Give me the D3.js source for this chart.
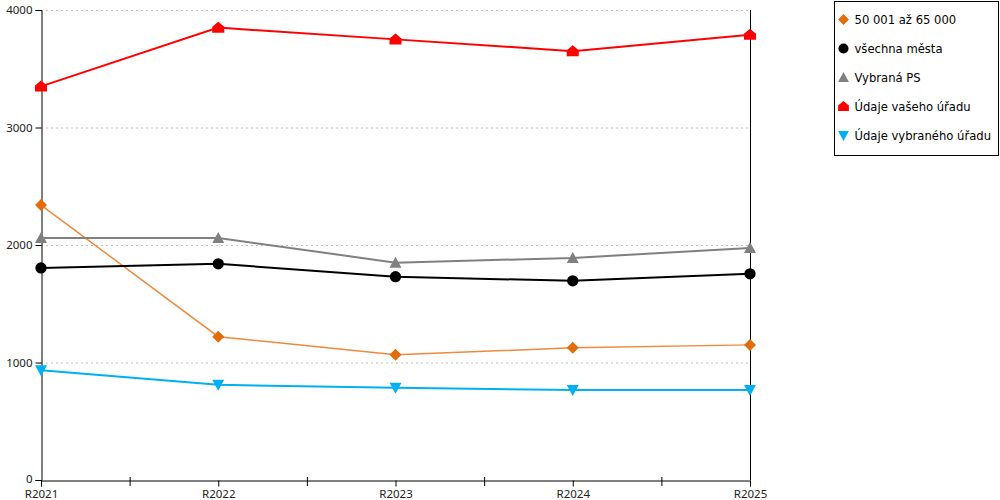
<!DOCTYPE html>
<html>
<head>
<meta charset="utf-8">
<script src="https://cdn.jsdelivr.net/npm/d3@7"></script>
<style>
  body { margin: 0; background: #fff; }
  svg { font-family: "DejaVu Sans", sans-serif; font-size: 12px; }
</style>
</head>
<body>
<svg width="1000" height="500"></svg>
<script>
// data
const years = ["R2021", "R2022", "R2023", "R2024", "R2025"];
const yTicks = [0, 1000, 2000, 3000, 4000];

const s5065 = [2340, 1220, 1065, 1125, 1150];
const vsechnaMesta = [1805, 1840, 1730, 1695, 1755];
const vybranaPS = [2060, 2060, 1850, 1890, 1975];
const vasUrad = [3350, 3850, 3750, 3650, 3790];
const vybranyUrad = [935, 810, 785, 765, 765];

const series = [
  { name: "50 001 až 65 000", values: s5065, color: "#e36c0a", line: "#ef8a3c", width: 1.5, shape: "diamond" },
  { name: "všechna města", values: vsechnaMesta, color: "#000000", line: "#000000", width: 2, shape: "circle" },
  { name: "Vybraná PS", values: vybranaPS, color: "#808080", line: "#808080", width: 2, shape: "triUp" },
  { name: "Údaje vašeho úřadu", values: vasUrad, color: "#ff0000", line: "#ff0000", width: 2, shape: "house" },
  { name: "Údaje vybraného úřadu", values: vybranyUrad, color: "#00b0f0", line: "#00b0f0", width: 2, shape: "triDown" },
];

const svg = d3.select("svg");
const mLeft = 41, mRight = 750, mTop = 10, mBottom = 480;

const x = d3.scalePoint().domain(years).range([mLeft, mRight]);
const y = d3.scaleLinear().domain([0, 4000]).range([mBottom, mTop]);

// marker shapes
function marker(shape) {
  switch (shape) {
    case "diamond": return "M0,-6L6,0L0,6L-6,0Z";
    case "circle": return d3.symbol(d3.symbolCircle, 100)();
    case "triUp": return "M0,-6L6,5L-6,5Z";
    case "triDown": return "M-6,-5L6,-5L0,6Z";
    case "house": return "M0,-6L6,-1L6,5L-6,5L-6,-1Z";
  }
}

// grid
svg.append("g")
  .selectAll("line")
  .data(yTicks.filter((d) => d > 0))
  .enter()
  .append("line")
  .attr("x1", mLeft)
  .attr("x2", mRight - 2)
  .attr("y1", (d) => y(d) + 0.5)
  .attr("y2", (d) => y(d) + 0.5)
  .attr("stroke", "#c0c0c0")
  .attr("stroke-dasharray", "2,3");

// y axis
const yAxis = svg.append("g")
  .attr("transform", `translate(${mLeft + 0.5},0)`)
  .call(d3.axisLeft(y).tickValues(yTicks).tickFormat(d3.format("d")).tickSize(6).tickPadding(3));
yAxis.select(".domain").attr("stroke", "#000");
yAxis.selectAll("text").attr("font-family", "Noto Sans").attr("font-size", 11.5).attr("fill", "#222")
  .attr("dy", (d) => (d === 0 ? "0.2em" : "0.32em"));

// x axis
const xAxis = svg.append("g")
  .attr("transform", `translate(0,${mBottom + 0.5})`)
  .call(d3.axisBottom(x).tickSizeOuter(0).tickSize(6).tickPadding(3));
xAxis.select(".domain").attr("stroke", "#000");
xAxis.selectAll("text").attr("font-family", "Noto Sans").attr("font-size", 11.5).attr("fill", "#222");

// minor ticks between categories
const step = x.step();
svg.append("g")
  .selectAll("line")
  .data(years.slice(0, -1))
  .enter()
  .append("line")
  .attr("x1", (d) => x(d) + step / 2 + 0.5)
  .attr("x2", (d) => x(d) + step / 2 + 0.5)
  .attr("y1", mBottom - 3)
  .attr("y2", mBottom + 6)
  .attr("stroke", "#000");

// right axis line
svg.append("line")
  .attr("x1", mRight + 0.5)
  .attr("x2", mRight + 0.5)
  .attr("y1", mTop)
  .attr("y2", mBottom)
  .attr("stroke", "#000");

// lines
const line = d3.line().x((d, i) => x(years[i])).y((d) => y(d));
svg.append("g")
  .selectAll("path")
  .data(series)
  .enter()
  .append("path")
  .attr("d", (d) => line(d.values))
  .attr("fill", "none")
  .attr("stroke", (d) => d.line)
  .attr("stroke-width", (d) => d.width);

// markers
series.forEach((s) => {
  svg.append("g")
    .selectAll("path")
    .data(s.values)
    .enter()
    .append("path")
    .attr("transform", (d, i) => `translate(${x(years[i])},${y(d)})`)
    .attr("d", marker(s.shape))
    .attr("fill", s.color);
});

// legend
const legend = svg.append("g").attr("transform", "translate(834.5,1.5)");
legend.append("rect")
  .attr("width", 164)
  .attr("height", 154)
  .attr("fill", "#fff")
  .attr("stroke", "#000");

const items = legend.selectAll(".item")
  .data(series)
  .enter()
  .append("g")
  .attr("class", "item")
  .attr("transform", (d, i) => `translate(9,${18 + i * 29})`);
items.append("path")
  .attr("d", (d) => marker(d.shape))
  .attr("transform", "scale(0.9)")
  .attr("fill", (d) => d.color);
items.append("text")
  .attr("x", 11)
  .attr("y", 4)
  .attr("fill", "#000")
  .attr("font-size", 11.6)
  .text((d) => d.name);
</script>
</body>
</html>
